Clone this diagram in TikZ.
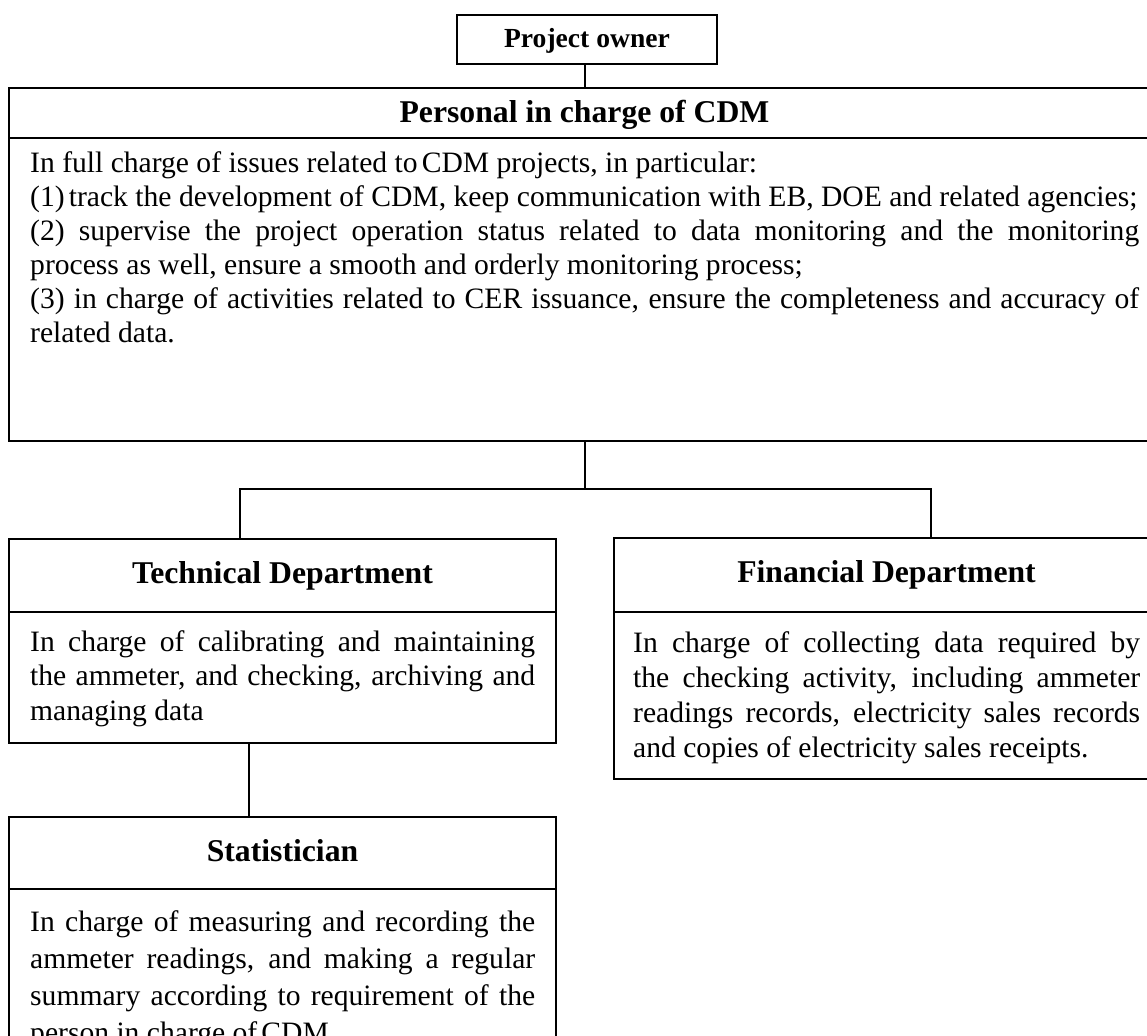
\documentclass[tikz,border=0pt]{standalone}
\usepackage{fontspec}
\setmainfont{Liberation Serif}
\newcommand{\nsp}{\hspace{0.14em}}
\begin{document}
\begin{tikzpicture}[x=1pt,y=-1pt,
  box/.style={draw, line width=1.6pt, rectangle, inner sep=0pt, outer sep=0pt, anchor=north west},
  link/.style={line width=1.6pt},
  rulestyle/.style={line width=1.6pt},
  headtext/.style={font=\fontsize{31.7}{38}\selectfont\bfseries, anchor=base, inner sep=0pt},
  bodytext/.style={align=justify, anchor=base west, inner sep=0pt},
]
\useasboundingbox (0,0) rectangle (1147,1035);
\clip (0,0) rectangle (1147,1035);

% boxes
\node[box, minimum width=260pt, minimum height=49pt]  (po)   at (457,15)  {};
\node[box, minimum width=1161pt, minimum height=353pt] (cdm)  at (9,88)    {};
\node[box, minimum width=547pt, minimum height=204pt] (tech) at (9,539)   {};
\node[box, minimum width=546pt, minimum height=241pt] (fin)  at (614,538) {};
\node[box, minimum width=547pt, minimum height=280pt] (stat) at (9,817)   {};

% header rules inside the boxes
\draw[rulestyle] ([yshift=-50pt]cdm.north west)  -- ([yshift=-50pt]cdm.north east);
\draw[rulestyle] ([yshift=-73pt]tech.north west) -- ([yshift=-73pt]tech.north east);
\draw[rulestyle] ([yshift=-74pt]fin.north west)  -- ([yshift=-74pt]fin.north east);
\draw[rulestyle] ([yshift=-72pt]stat.north west) -- ([yshift=-72pt]stat.north east);

% connectors
\coordinate (hub) at (585,489);
\coordinate (tj)  at (240,489);
\coordinate (fj)  at (931,489);
\coordinate (sj)  at (249,780);
\draw[link] (po.south -| hub) -- (cdm.north -| hub);
\draw[link] (cdm.south -| hub) -- (hub);
\draw[link] (tech.north -| tj) -- (tj) -- (fj) -- (fin.north -| fj);
\draw[link] (tech.south -| sj) -- (stat.north -| sj);

% titles
\node[headtext, font=\fontsize{27.6}{33}\selectfont\bfseries] (potext) at (587,48) {Project owner};
\node[headtext] (cdmtitle)  at (584.5,123) {Personal in charge of CDM};
\node[headtext] (techtitle) at (282.5,583) {Technical Department};
\node[headtext] (fintitle)  at (886.5,582) {Financial Department};
\node[headtext] (stattitle) at (282.5,861) {Statistician};

% descriptions
\node[bodytext, text width=1109pt, font=\fontsize{29.6}{34}\selectfont] (cdmbody) at (30,172)
  {In full charge of issues related to\nsp CDM projects, in particular:\\
   (1)\nsp track the development of CDM, keep communication with EB, DOE and related agencies;\\
   (2) supervise the project operation status related to data monitoring and the monitoring\linebreak
   process as well, ensure a smooth and orderly monitoring process;\\
   (3) in charge of activities related to CER issuance, ensure the completeness and accuracy of\linebreak
   related data.};

\node[bodytext, text width=505pt, font=\fontsize{29.6}{34.5}\selectfont] (techbody) at (30,651)
  {In charge of calibrating and maintaining\linebreak
   the ammeter, and checking, archiving and\linebreak
   managing data};

\node[bodytext, text width=507pt, font=\fontsize{29.6}{35}\selectfont] (finbody) at (633,652)
  {In charge of collecting data required by\linebreak
   the checking activity, including ammeter\linebreak
   readings records, electricity sales records\linebreak
   and copies of electricity sales receipts.};

\node[bodytext, text width=505pt, font=\fontsize{29.6}{37.3}\selectfont] (statbody) at (30,931)
  {In charge of measuring and recording the\linebreak
   ammeter readings, and making a regular\linebreak
   summary according to requirement of the\linebreak
   person in charge of\nsp CDM};
\end{tikzpicture}
\end{document}
